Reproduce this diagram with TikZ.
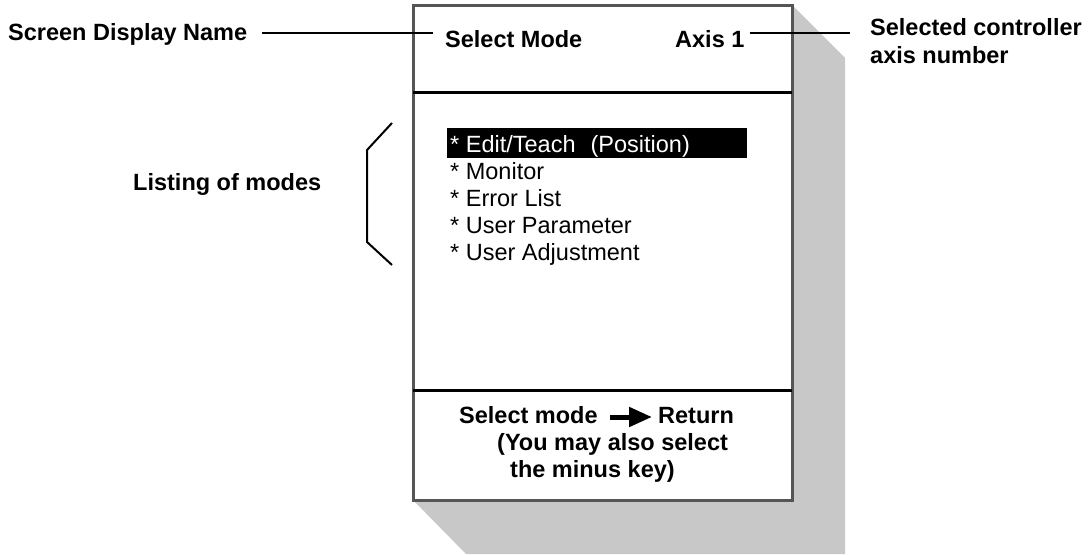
\documentclass[tikz,border=0pt]{standalone}
\usepackage{fontspec}
\setmainfont{Liberation Sans}
\usetikzlibrary{arrows.meta}
\definecolor{shadowgray}{HTML}{C8C8C8}
\definecolor{framegray}{HTML}{555555}
\tikzset{
  lbl/.style={anchor=base west, inner sep=0pt, font=\fontsize{23.5}{27}\selectfont\bfseries},
  item/.style={anchor=base west, inner sep=0pt, font=\fontsize{23.5}{27}\selectfont},
  leader/.style={draw=black, line width=2pt},
  divider/.style={draw=black, line width=3pt},
  frame/.style={draw=framegray, line width=3pt, fill=white},
}
\begin{document}
\begin{tikzpicture}[x=1pt, y=-1pt]
  \useasboundingbox (0,0) rectangle (1089,554);

  % drop shadow behind the screen
  \fill[shadowgray] (792,5) -- (845,58) -- (845,554) -- (466,554) -- (413,500) -- cycle;

  % screen frame and its section dividers
  \draw[frame] (413,5) rectangle (792,500);
  \coordinate (dtl) at (413,92);  \coordinate (dtr) at (792,92);
  \coordinate (dbl) at (413,390); \coordinate (dbr) at (792,390);
  \draw[divider] (dtl) -- (dtr);
  \draw[divider] (dbl) -- (dbr);

  % header line of the screen
  \node[lbl] (hdr)  at (445,47) {Select Mode};
  \node[lbl] (axis) at (675,47) {Axis 1};

  % callouts
  \node[lbl] (sdn) at (8,40) {Screen Display Name};
  \node[lbl] (sel) at (870,35) {Selected controller};
  \node[lbl] (sel2) at (870,63) {axis number};
  \node[lbl] (lst) at (133,190) {Listing of modes};

  \draw[leader] ([xshift=15pt,yshift=7pt]sdn.base east) -- ([xshift=-12pt,yshift=14pt]hdr.base west);
  \draw[leader] ([xshift=5pt,yshift=14pt]axis.base east) -- ([xshift=-20pt,yshift=2pt]sel.base west);

  % bracket around the mode list
  \coordinate (b1) at (392,123);
  \coordinate (b2) at (367,150);
  \coordinate (b3) at (367,242);
  \coordinate (b4) at (392,265);
  \draw[leader] (b1) -- (b2) -- (b3) -- (b4);

  % mode list with the highlighted entry
  \node[fill=black, inner sep=0pt, minimum width=300pt, minimum height=30pt, anchor=north west] (hl) at (447,128) {};
  \node[item, text=white] (m1) at (450,152) {* Edit/Teach\hspace{15pt}(Position)};
  \node[item] (m2) at (450,179) {* Monitor};
  \node[item] (m3) at (450,206) {* Error List};
  \node[item] (m4) at (450,233) {* User Parameter};
  \node[item] (m5) at (450,260) {* User Adjustment};

  % footer instructions
  \node[lbl] (fsel) at (459,423) {Select mode};
  \node[lbl] (fret) at (658,423) {Return};
  \draw[line width=5pt, -{Triangle[length=23pt,width=19pt]}]
    ([xshift=12pt,yshift=6pt]fsel.base east) -- ([xshift=-6pt,yshift=6pt]fret.base west);
  \node[lbl] (f2) at (497,450) {(You may also select};
  \node[lbl] (f3) at (510,477) {the minus key)};
\end{tikzpicture}
\end{document}
